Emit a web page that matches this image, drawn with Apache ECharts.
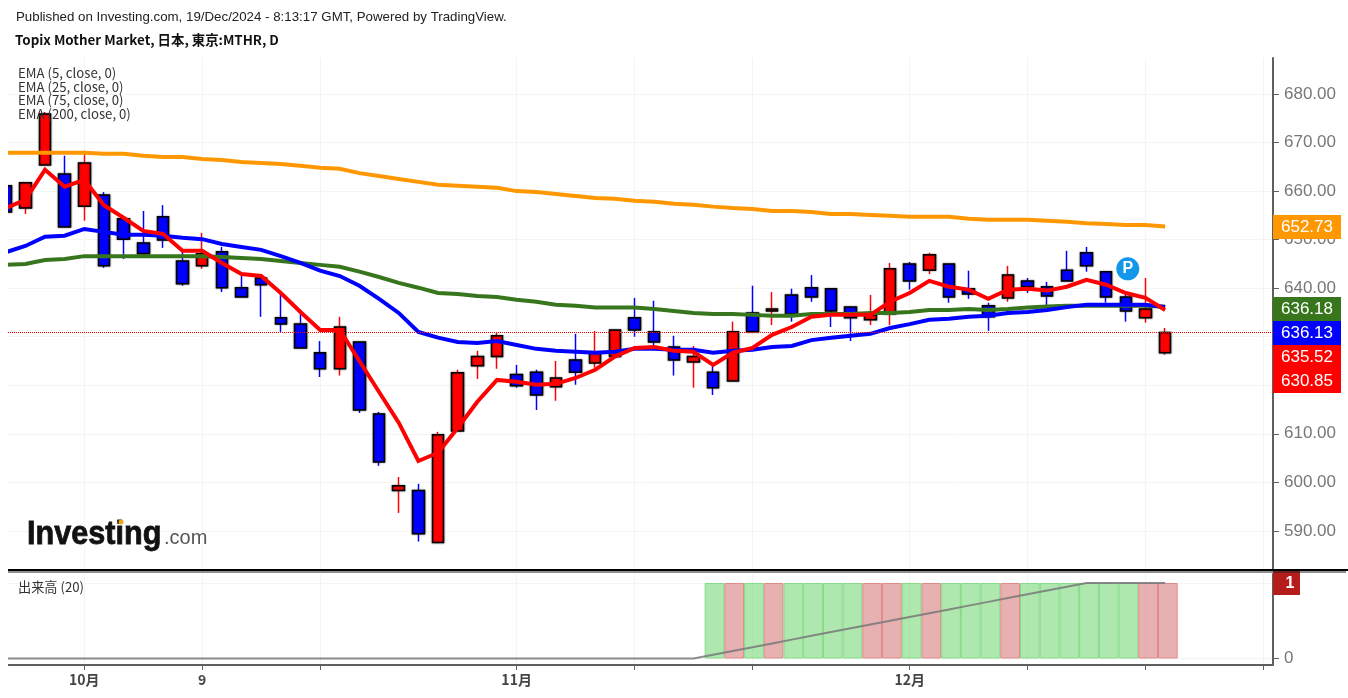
<!DOCTYPE html>
<html>
<head>
<meta charset="utf-8">
<title>Topix Mother Market</title>
<script src="https://cdn.jsdelivr.net/npm/echarts@6/dist/echarts.min.js"></script>
<style>
  html, body { margin: 0; padding: 0; background: #fff; }
  #main { width: 1348px; height: 698px; }
</style>
</head>
<body>
<div id="main"></div>
<script>
// daily bars, index 0 is the partly hidden one at the left edge
const open = [661.1,656.5,665.4,663.5,656.9,659.2,654.3,649.3,654.7,645.6,644.6,647.5,640.1,642.1,633.9,632.6,626.7,623.4,628.9,614.1,598.3,598.3,587.6,610.6,624.0,625.9,622.2,622.7,619.7,625.2,624.6,625.9,633.9,631.0,627.9,624.8,622.7,620.9,634.9,635.3,638.6,640.1,639.9,636.1,633.5,634.7,645.0,643.7,645.0,639.9,636.4,638.0,641.5,640.3,643.7,647.3,643.4,638.2,633.9,626.7]
const close = [655.7,661.7,675.9,652.6,665.8,644.6,650.1,647.1,649.9,640.9,647.1,640.1,638.2,640.7,632.6,627.7,623.4,632.0,614.9,604.2,599.3,589.4,609.8,622.6,625.9,630.2,619.9,618.0,621.5,622.7,626.7,631.4,631.4,628.9,625.2,625.9,619.5,631.0,631.0,635.7,634.7,638.2,635.3,633.9,634.5,644.0,641.5,646.9,638.2,638.8,634.1,642.7,640.3,638.4,641.5,644.6,638.2,635.3,635.7,630.85]
const low = [655.7,655.3,665.4,652.6,653.9,644.2,646.0,646.4,648.3,640.5,644.0,639.2,638.2,634.1,631.0,627.7,621.7,622.0,614.3,603.4,593.7,587.8,587.6,610.6,621.3,623.4,619.5,614.9,616.8,620.1,623.6,625.9,630.0,627.9,622.0,619.5,618.0,620.9,631.0,632.4,633.1,637.2,632.0,629.1,632.4,632.4,639.7,642.9,637.0,637.8,631.2,637.2,639.0,636.1,641.5,643.4,637.0,633.1,632.9,626.3]
const high = [661.1,661.7,676.3,667.3,668.3,659.8,654.3,655.9,657.1,648.1,651.4,648.5,642.5,642.5,639.0,635.1,629.1,634.1,628.9,614.5,601.1,599.7,610.4,623.2,627.1,630.8,624.2,623.2,625.0,630.6,631.2,631.4,638.0,637.4,630.2,628.1,624.6,633.1,640.5,639.2,639.9,642.7,639.9,636.1,638.6,645.2,645.4,647.3,645.0,643.6,637.0,644.6,642.1,641.3,647.7,648.5,643.4,638.6,642.1,631.8]

const ema5 = [656.5,658.2,664.4,660.9,662.3,657.1,654.5,651.8,651.2,647.7,647.7,645.2,642.9,642.5,639.0,635.1,631.4,631.4,625.0,618.6,612.3,604.4,606.1,611.2,616.6,621.1,620.7,620.1,620.3,621.5,623.2,625.9,627.7,627.9,627.1,626.9,624.2,626.7,627.7,630.4,632.0,634.1,634.5,634.5,634.5,637.2,639.0,641.5,640.3,639.7,637.8,639.7,639.9,639.5,640.3,641.7,640.7,639.0,638.0,635.52]
const ema25 = [647.4,648.7,650.6,650.8,652.2,651.6,651.0,651.0,650.8,650.4,650.1,649.1,648.5,647.9,646.6,645.2,643.6,642.5,640.5,637.8,634.9,631.0,629.8,628.9,628.7,629.1,628.3,627.5,627.1,626.9,626.7,626.9,627.5,627.5,627.3,627.3,626.7,627.1,627.3,627.9,628.1,629.3,629.8,630.2,630.6,631.8,632.6,633.5,633.7,634.1,634.3,634.9,635.1,635.5,636.1,636.6,636.6,636.6,636.6,636.13]
const ema75 = [644.8,645.0,645.8,646.0,646.6,646.6,646.6,646.6,646.6,646.6,646.6,646.4,646.2,646.0,645.6,645.2,644.8,644.4,643.4,642.3,641.1,640.1,639.0,638.8,638.4,638.2,637.6,637.2,636.6,636.4,636.0,636.0,636.0,635.7,635.3,634.9,634.7,634.7,634.5,634.3,634.3,634.7,634.7,634.7,634.9,634.9,635.1,635.5,635.5,635.7,635.5,635.7,636.0,636.2,636.4,636.4,636.4,636.4,636.4,636.18]
const ema200 = [667.9,667.9,667.9,667.9,667.9,667.7,667.7,667.3,667.0,667.0,666.6,666.4,666.0,665.8,665.6,665.2,664.8,664.6,663.7,663.1,662.5,661.9,661.3,661.1,660.9,660.7,660.0,659.8,659.4,659.0,658.6,658.4,658.0,657.8,657.4,657.2,656.8,656.5,656.3,655.9,655.9,655.7,655.3,655.3,655.1,654.9,654.7,654.7,654.7,654.3,654.1,654.1,654.1,653.9,653.7,653.4,653.2,653.0,653.0,652.73]

// volume pane, 1 = up bar colour 0 = down bar colour
const volume = [0,0,0,0,0,0,0,0,0,0,0,0,0,0,0,0,0,0,0,0,0,0,0,0,0,0,0,0,0,0,0,0,0,0,0,0,1,1,1,1,1,1,1,1,1,1,1,1,1,1,1,1,1,1,1,1,1,1,1,1]
const volumeGreen = [0,0,0,0,0,0,0,0,0,0,0,0,0,0,0,0,0,0,0,0,0,0,0,0,0,0,0,0,0,0,0,0,0,0,0,0,1,0,1,0,1,1,1,1,0,0,1,0,1,1,1,0,1,1,1,1,1,1,0,0]
const volumeMa = [0,0,0,0,0,0,0,0,0,0,0,0,0,0,0,0,0,0,0,0,0,0,0,0,0,0,0,0,0,0,0,0,0,0,0,0,0.05,0.1,0.15,0.2,0.25,0.3,0.35,0.4,0.45,0.5,0.55,0.6,0.65,0.7,0.75,0.8,0.85,0.9,0.95,1,1,1,1,1]

const priceTicks = [590,600,610,620,630,640,650,660,670,680]
const timeTicks = [4,10,16,26,32,38,46,52,58,64]
const timeLabels = { 4: '10月', 10: '9', 26: '11月', 46: '12月' }
const emaNames = ['EMA (5, close, 0)', 'EMA (25, close, 0)', 'EMA (75, close, 0)', 'EMA (200, close, 0)']
const lastTags = ['652.73', '636.18', '636.13', '635.52', '630.85']
const tagColors = ['#ff9800', '#38761d', '#0000ff', '#ff0000', '#ff0000']

const RED = '#ff0000'
const BLUE = '#0000ff'
const GRID_LINE = '#f4f4f4'
const AXIS_LINE = '#5f5f5f'
const SANS = '"Liberation Sans", Arial, sans-serif'
const CJK = '"Noto Sans CJK JP", sans-serif'

const xMin = 0.117
const xMax = 64.49
const lastIdx = close.length - 1

const wickData = close.map((c, i) => [i, open[i], c, low[i], high[i]])
// second candlestick on top, only the body so it can have a black border
const bodyData = close.map((c, i) => [i, open[i], c, Math.min(open[i], c), Math.max(open[i], c)])

function emaSeries(name, values, color) {
  return {
    name,
    type: 'line',
    xAxisIndex: 0,
    yAxisIndex: 0,
    data: values.map((v, i) => [i, v]),
    showSymbol: false,
    symbol: 'none',
    lineStyle: { color, width: 4, join: 'miter' }
  }
}

function textEl(text, x, y, font, fill) {
  return { type: 'text', x, y, z: 20, silent: true, style: { text, font, fill, verticalAlign: 'middle' } }
}

const graphic = [
  // candlestick does not clip to the grid, the first bar is cut off here
  { type: 'rect', z: 19, silent: true, shape: { x: 0, y: 58, width: 8, height: 620 }, style: { fill: '#fff' } },
  textEl('Published on Investing.com, 19/Dec/2024 - 8:13:17 GMT, Powered by TradingView.', 16, 17, '13.3px ' + SANS, '#222'),
  textEl('Topix Mother Market, 日本, 東京:MTHR, D', 15, 40, 'bold 13.4px ' + CJK, '#111'),
  textEl('出来高 (20)', 18, 587, '13.2px ' + CJK, '#333'),
  // logo
  {
    type: 'text', x: 27, y: 535, z: 20, silent: true, scaleX: 0.9,
    style: { text: 'Investing', font: 'bold 34px ' + SANS, fill: '#111', stroke: '#111', lineWidth: 0.8, verticalAlign: 'middle' }
  },
  textEl('.com', 164, 538, '20px ' + SANS, '#555'),
  { type: 'circle', z: 20, silent: true, shape: { cx: 121, cy: 522, r: 2.5 }, style: { fill: '#f7a21b' } },
  // pane divider
  { type: 'rect', z: 25, silent: true, shape: { x: 8, y: 569, width: 1340, height: 2 }, style: { fill: '#000' } },
  { type: 'rect', z: 25, silent: true, shape: { x: 8, y: 571.5, width: 1338, height: 1 }, style: { fill: '#222' } }
]

emaNames.forEach((t, i) => {
  graphic.push(textEl(t, 18, 73 + i * 13.7, '13.2px ' + CJK, '#333'))
})

// right side value tags, stacked like the original so they do not overlap
const tagTops = [215, 297, 321, 345, 369]
lastTags.forEach((t, i) => {
  graphic.push({ type: 'rect', z: 22, silent: true, shape: { x: 1273, y: tagTops[i], width: 68, height: 24 }, style: { fill: tagColors[i] } })
  graphic.push({ type: 'text', x: 1307, y: tagTops[i] + 12.5, z: 23, silent: true, style: { text: t, font: '17px ' + SANS, fill: '#fff', align: 'center', verticalAlign: 'middle' } })
})
graphic.push({ type: 'rect', z: 22, silent: true, shape: { x: 1273, y: 571, width: 27, height: 24 }, style: { fill: '#b71c1c' } })
graphic.push({ type: 'text', x: 1290, y: 583.5, z: 23, silent: true, style: { text: '1', font: 'bold 16px ' + SANS, fill: '#fff', align: 'center', verticalAlign: 'middle' } })

const chart = echarts.init(document.getElementById('main'), null, { renderer: 'canvas' })

chart.setOption({
  animation: false,
  backgroundColor: '#fff',
  graphic,
  grid: [
    { left: 8, top: 58, width: 1265, height: 512 },
    { left: 8, top: 574, width: 1265, height: 91 }
  ],
  xAxis: [
    {
      type: 'value',
      gridIndex: 0,
      min: xMin,
      max: xMax,
      axisLine: { show: false },
      axisTick: { show: false, customValues: timeTicks },
      axisLabel: { show: false, customValues: timeTicks },
      splitLine: { show: true, lineStyle: { color: GRID_LINE, width: 1 } }
    },
    {
      type: 'value',
      gridIndex: 1,
      min: xMin,
      max: xMax,
      axisLine: { show: true, onZero: false, lineStyle: { color: AXIS_LINE, width: 2 } },
      axisTick: { show: true, length: 5, customValues: timeTicks, lineStyle: { color: AXIS_LINE } },
      axisLabel: {
        show: true,
        customValues: Object.keys(timeLabels).map(Number),
        margin: 8,
        color: '#444',
        fontFamily: CJK,
        fontWeight: 'bold',
        fontSize: 14,
        formatter: v => timeLabels[v] || ''
      },
      splitLine: { show: true, lineStyle: { color: GRID_LINE, width: 1 } }
    },
    // volume bars run on a slightly wider step than the candles in the original
    {
      type: 'value',
      gridIndex: 1,
      show: false,
      min: 0.155,
      max: 64.335
    }
  ],
  yAxis: [
    {
      type: 'value',
      gridIndex: 0,
      position: 'right',
      min: 581.94,
      max: 687.42,
      axisLine: { show: true, onZero: false, lineStyle: { color: AXIS_LINE, width: 2 } },
      axisTick: { show: true, length: 6, customValues: priceTicks, lineStyle: { color: AXIS_LINE } },
      axisLabel: {
        customValues: priceTicks,
        margin: 11,
        padding: [4, 0, 0, 0],
        color: '#777',
        fontFamily: SANS,
        fontSize: 17,
        formatter: v => v.toFixed(2)
      },
      splitLine: { show: true, lineStyle: { color: GRID_LINE, width: 1 } }
    },
    {
      type: 'value',
      gridIndex: 1,
      position: 'right',
      min: -0.086,
      max: 1.119,
      axisLine: { show: true, onZero: false, lineStyle: { color: AXIS_LINE, width: 2 } },
      axisTick: { show: true, length: 6, customValues: [0, 1], lineStyle: { color: AXIS_LINE } },
      axisLabel: {
        customValues: [0],
        margin: 11,
        padding: [4, 0, 0, 0],
        color: '#777',
        fontFamily: SANS,
        fontSize: 17
      },
      splitLine: { show: true, lineStyle: { color: GRID_LINE, width: 1 } }
    }
  ],
  series: [
    emaSeries('EMA 200', ema200, '#ff9800'),
    emaSeries('EMA 75', ema75, '#38761d'),
    emaSeries('EMA 25', ema25, BLUE),
    {
      ...emaSeries('EMA 5', ema5, RED),
      markLine: {
        silent: true,
        symbol: 'none',
        label: { show: false },
        lineStyle: { color: RED, type: 'dotted', width: 1 },
        data: [{ yAxis: close[lastIdx] }]
      }
    },
    {
      name: 'wicks',
      type: 'candlestick',
      xAxisIndex: 0,
      yAxisIndex: 0,
      barWidth: 1,
      encode: { x: 0, y: [1, 2, 3, 4] },
      data: wickData,
      itemStyle: { color: RED, color0: BLUE, borderColor: RED, borderColor0: BLUE, borderWidth: 1.5 }
    },
    {
      name: 'bodies',
      type: 'candlestick',
      xAxisIndex: 0,
      yAxisIndex: 0,
      barWidth: 12,
      encode: { x: 0, y: [1, 2, 3, 4] },
      data: bodyData,
      itemStyle: {
        color: RED,
        color0: BLUE,
        borderColor: '#000',
        borderColor0: '#000',
        borderWidth: 1.5,
        shadowColor: 'rgba(0,0,0,0.45)',
        shadowBlur: 2
      },
      markPoint: {
        silent: true,
        symbol: 'circle',
        symbolSize: 23,
        itemStyle: { color: '#1397ea' },
        label: { show: true, formatter: 'P', color: '#fff', fontFamily: SANS, fontWeight: 'bold', fontSize: 16 },
        data: [{ coord: [57.1, 644.0] }]
      }
    },
    {
      name: '出来高',
      type: 'bar',
      xAxisIndex: 2,
      yAxisIndex: 1,
      barWidth: 19.7,
      data: volume.map((v, i) => ({
        value: [i, v],
        itemStyle: volumeGreen[i]
          ? { color: 'rgba(110,214,110,0.55)', borderColor: '#84da84', borderWidth: 1 }
          : { color: 'rgba(214,120,120,0.58)', borderColor: v ? '#e08a8a' : 'transparent', borderWidth: 1 }
      }))
    },
    {
      name: '出来高 MA',
      type: 'line',
      xAxisIndex: 1,
      yAxisIndex: 1,
      data: volumeMa.map((v, i) => [i, v]),
      symbol: 'none',
      lineStyle: { color: 'rgba(120,120,120,0.85)', width: 2 }
    }
  ]
})
</script>
</body>
</html>
